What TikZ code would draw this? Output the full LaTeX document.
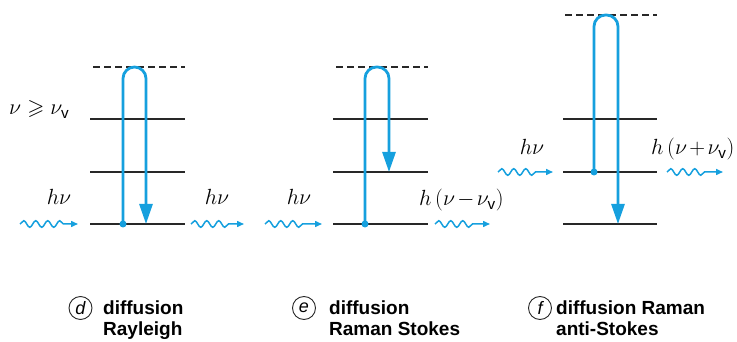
\documentclass[tikz,border=0pt]{standalone}
\usepackage{graphicx}
\usepackage{amssymb}
\usepackage{fontspec}
\setsansfont{Liberation Sans}
\usetikzlibrary{arrows.meta,decorations.pathmorphing}
\definecolor{ramanblue}{RGB}{22,160,222}
\definecolor{levelgray}{RGB}{40,40,40}
\newcommand{\biglbl}[1]{\scalebox{1.27}{#1}}
\begin{document}
\begin{tikzpicture}[x=1pt,y=-1pt,
  level/.style={draw=levelgray,line width=1.8pt},
  virtual/.style={level,dash pattern=on 7pt off 4pt},
  transition/.style={draw=ramanblue,line width=2.8pt,rounded corners=11.5pt,-{Triangle[length=20pt,width=13pt]}},
  photon/.style={draw=ramanblue,line width=1.5pt,decorate,decoration={snake,amplitude=3.3pt,segment length=12pt,post length=14pt},-{Triangle[length=7pt,width=6pt]}},
  startdot/.style={circle,fill=ramanblue,inner sep=0pt,minimum size=7pt},
  energy/.style={font=\fontsize{17.28}{20}\selectfont,inner sep=0pt},
  letter/.style={circle,draw=levelgray,line width=0.9pt,inner sep=0pt,minimum size=23pt,font=\fontsize{18}{18}\selectfont\sffamily\itshape},
  captxt/.style={font=\fontsize{19}{21}\selectfont\sffamily\bfseries,inner sep=0pt,anchor=base west}
]
\useasboundingbox (0,0) rectangle (737,342);

% ---------- panel d : Rayleigh ----------
\coordinate (d0l) at (90,224);  \coordinate (d0r) at (185,224);
\coordinate (d1l) at (90,172);  \coordinate (d1r) at (185,172);
\coordinate (d2l) at (90,119);  \coordinate (d2r) at (185,119);
\coordinate (dvl) at (93,67);   \coordinate (dvr) at (185,67);
\draw[level] (d0l) -- (d0r);
\draw[level] (d1l) -- (d1r);
\draw[level] (d2l) -- (d2r);
\draw[virtual] (dvl) -- (dvr);
\node[startdot] (dstart) at (123,224) {};
\coordinate (dend) at (146,224);
\draw[transition] (dstart.center) -- (123,67) -- (146,67) -- (dend);
\coordinate (dinA) at (20,224);  \coordinate (dinB) at (78,224);
\coordinate (doutA) at (191,224); \coordinate (doutB) at (244,224);
\draw[photon] (dinA) -- (dinB);
\draw[photon] (doutA) -- (doutB);
\node[energy,anchor=base west] (cond) at (9,115) {\biglbl{$\nu \geqslant \nu_{\mathsf{v}}$}};
\node[energy,anchor=base] (dhin) at (59,205) {\biglbl{$h\nu$}};
\node[energy,anchor=base] (dhout) at (217,205) {\biglbl{$h\nu$}};

% ---------- panel e : Raman Stokes ----------
\coordinate (e0l) at (333,224);  \coordinate (e0r) at (428,224);
\coordinate (e1l) at (333,172);  \coordinate (e1r) at (428,172);
\coordinate (e2l) at (333,119);  \coordinate (e2r) at (428,119);
\coordinate (evl) at (336,67);   \coordinate (evr) at (428,67);
\draw[level] (e0l) -- (e0r);
\draw[level] (e1l) -- (e1r);
\draw[level] (e2l) -- (e2r);
\draw[virtual] (evl) -- (evr);
\node[startdot] (estart) at (365,224) {};
\coordinate (eend) at (389,172);
\draw[transition] (estart.center) -- (365,67) -- (389,67) -- (eend);
\coordinate (einA) at (265,224);  \coordinate (einB) at (322,224);
\coordinate (eoutA) at (435,224); \coordinate (eoutB) at (490,224);
\draw[photon] (einA) -- (einB);
\draw[photon] (eoutA) -- (eoutB);
\node[energy,anchor=base] (ehin) at (299,205) {\biglbl{$h\nu$}};
\node[energy,anchor=base west] (ehout) at (419,206) {\biglbl{$h\,(\nu\mkern2mu{-}\mkern2mu\nu_{\mathsf{v}})$}};

% ---------- panel f : Raman anti-Stokes ----------
\coordinate (f0l) at (563,224);  \coordinate (f0r) at (657,224);
\coordinate (f1l) at (563,172);  \coordinate (f1r) at (657,172);
\coordinate (f2l) at (563,119);  \coordinate (f2r) at (657,119);
\coordinate (fvl) at (565,15);   \coordinate (fvr) at (657,15);
\draw[level] (f0l) -- (f0r);
\draw[level] (f1l) -- (f1r);
\draw[level] (f2l) -- (f2r);
\draw[virtual] (fvl) -- (fvr);
\node[startdot] (fstart) at (594,172) {};
\coordinate (fend) at (618,224);
\draw[transition] (fstart.center) -- (594,15) -- (618,15) -- (fend);
\coordinate (finA) at (498,172);  \coordinate (finB) at (553,172);
\coordinate (foutA) at (667,172); \coordinate (foutB) at (723,172);
\draw[photon] (finA) -- (finB);
\draw[photon] (foutA) -- (foutB);
\node[energy,anchor=base] (fhin) at (532,155) {\biglbl{$h\nu$}};
\node[energy,anchor=base west] (fhout) at (651,155) {\biglbl{$h\,(\nu\mkern2mu{+}\mkern2mu\nu_{\mathsf{v}})$}};

% ---------- captions ----------
\node[letter] (ld) at (80.5,308) {d};
\node[captxt] (cd1) at (103,314) {diffusion};
\node[captxt] (cd2) at (103,335) {Rayleigh};
\node[letter] (le) at (304,308) {e};
\node[captxt] (ce1) at (329,314) {diffusion};
\node[captxt] (ce2) at (329,335) {Raman Stokes};
\node[letter] (lf) at (540,308) {f};
\node[captxt] (cf1) at (556,314) {diffusion Raman};
\node[captxt] (cf2) at (556,335) {anti-Stokes};
\end{tikzpicture}
\end{document}
